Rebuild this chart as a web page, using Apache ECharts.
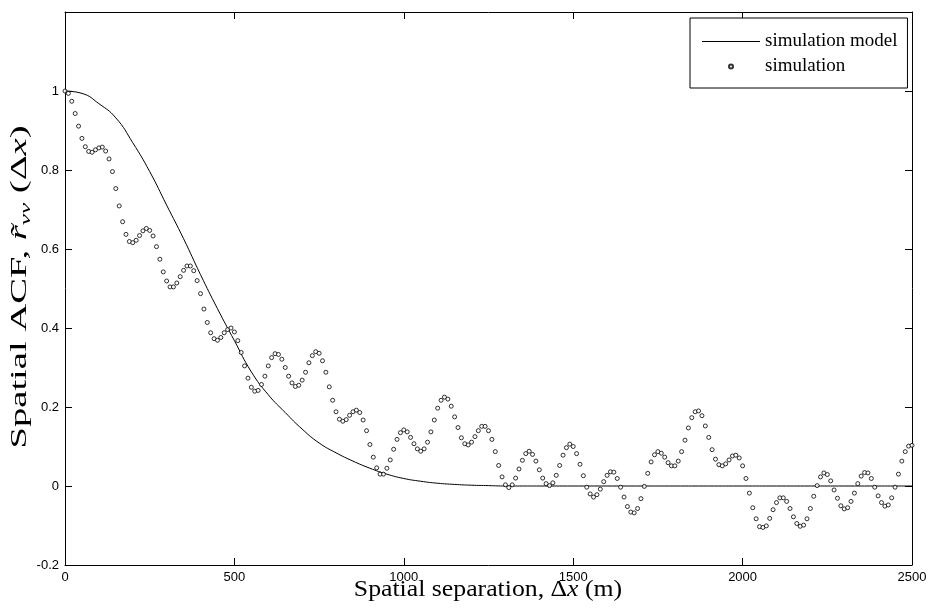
<!DOCTYPE html>
<html>
<head>
<meta charset="utf-8">
<script src="https://cdn.jsdelivr.net/npm/echarts@6/dist/echarts.min.js"></script>
<style>
  html, body { margin: 0; padding: 0; background: #fff; }
  #chart { width: 932px; height: 613px; }
</style>
</head>
<body>
<div id="chart"></div>
<script>
// Spatial separation step of the simulated ACF samples (m)
const lagStep = 10;

// Simulated spatial ACF, one value per lag step from 0 m to 2500 m
const simulationValues = [
  1.000, 0.994, 0.974, 0.943, 0.911, 0.880, 0.859, 0.847, 0.845, 0.851,
  0.856, 0.858, 0.848, 0.828, 0.796, 0.753, 0.709, 0.669, 0.637, 0.619,
  0.616, 0.622, 0.634, 0.646, 0.652, 0.647, 0.633, 0.606, 0.574, 0.542,
  0.519, 0.504, 0.504, 0.514, 0.530, 0.546, 0.557, 0.557, 0.545, 0.520,
  0.487, 0.448, 0.414, 0.388, 0.373, 0.369, 0.376, 0.388, 0.396, 0.400,
  0.390, 0.368, 0.338, 0.304, 0.273, 0.250, 0.240, 0.242, 0.257, 0.278,
  0.304, 0.325, 0.335, 0.333, 0.321, 0.300, 0.278, 0.261, 0.252, 0.255,
  0.268, 0.288, 0.312, 0.330, 0.340, 0.336, 0.317, 0.288, 0.251, 0.217,
  0.188, 0.169, 0.164, 0.168, 0.179, 0.188, 0.192, 0.186, 0.167, 0.140,
  0.105, 0.073, 0.046, 0.030, 0.030, 0.045, 0.066, 0.093, 0.118, 0.135,
  0.142, 0.137, 0.123, 0.107, 0.094, 0.088, 0.094, 0.111, 0.137, 0.167,
  0.197, 0.217, 0.225, 0.220, 0.202, 0.175, 0.148, 0.122, 0.107, 0.104,
  0.111, 0.125, 0.140, 0.151, 0.151, 0.140, 0.118, 0.087, 0.052, 0.023,
  0.003, -0.004, 0.003, 0.020, 0.043, 0.065, 0.082, 0.088, 0.080, 0.063,
  0.041, 0.020, 0.006, 0.001, 0.008, 0.027, 0.052, 0.078, 0.097, 0.106,
  0.100, 0.082, 0.055, 0.026, -0.003, -0.020, -0.028, -0.022, -0.008, 0.011,
  0.027, 0.036, 0.035, 0.019, -0.003, -0.028, -0.052, -0.066, -0.068, -0.057,
  -0.032, -0.001, 0.032, 0.061, 0.079, 0.087, 0.083, 0.073, 0.059, 0.051,
  0.051, 0.063, 0.087, 0.116, 0.147, 0.173, 0.188, 0.190, 0.178, 0.152,
  0.123, 0.092, 0.068, 0.054, 0.051, 0.056, 0.066, 0.076, 0.078, 0.071,
  0.051, 0.019, -0.018, -0.055, -0.083, -0.103, -0.105, -0.101, -0.082, -0.060,
  -0.042, -0.030, -0.030, -0.039, -0.057, -0.078, -0.095, -0.102, -0.099, -0.083,
  -0.057, -0.026, 0.001, 0.023, 0.033, 0.029, 0.013, -0.010, -0.031, -0.050,
  -0.058, -0.055, -0.039, -0.018, 0.006, 0.025, 0.034, 0.033, 0.019, -0.003,
  -0.025, -0.042, -0.051, -0.048, -0.030, -0.003, 0.030, 0.063, 0.087, 0.101,
  0.103
];

// Simulation model curve, sampled every 50 m
const modelLags = [
  0, 50, 100, 150, 200, 250, 300, 350, 400, 450, 500, 550, 600, 650, 700,
  750, 800, 850, 900, 950, 1000, 1050, 1100, 1150, 1200, 1250, 1300, 1350,
  1400, 1500, 1600, 1700, 1800, 1900, 2000, 2100, 2200, 2300, 2400, 2500
];
const modelValues = [
  1.000, 0.994, 0.968, 0.932, 0.869, 0.796, 0.711, 0.626, 0.535, 0.449,
  0.368, 0.289, 0.231, 0.186, 0.144, 0.109, 0.084, 0.063, 0.045, 0.030,
  0.019, 0.012, 0.007, 0.004, 0.002, 0.001, 0.000, 0.000, 0.000, 0.000,
  0.000, 0.000, 0.000, 0.000, 0.000, 0.000, 0.000, 0.000, 0.000, 0.000
];

// Axis ranges and tick spacing
const xRange = [0, 2500];
const xTickStep = 500;
const yRange = [-0.2, 1.2];
const yTickStep = 0.2;
const yLabelMax = 1;

const seriesNames = ['simulation model', 'simulation'];
const xTitle = '{n|Spatial separation, Δ}{i|x}{n| (m)}';
const yTitle = '{n|Spatial ACF, }{i|r\u0303}{s|νν}{n| (Δ}{i|x}{n|)}';

const serif = '"Liberation Serif", "DejaVu Serif", serif';
const sans = '"Liberation Sans", Arial, sans-serif';

const simulationPoints = simulationValues.map((v, i) => [i * lagStep, v]);
const modelPoints = modelLags.map((x, i) => [x, modelValues[i]]);

const frameLine = { show: true, onZero: false, lineStyle: { color: '#000', width: 1 } };
const innerTick = { show: true, inside: true, length: 7, lineStyle: { color: '#000', width: 1 } };

const titleRich = {
  n: { fontFamily: serif, fontSize: 23, fill: '#000', color: '#000', lineHeight: 28 },
  i: { fontFamily: serif, fontSize: 23, fontStyle: 'italic', fill: '#000', color: '#000', lineHeight: 28 },
  s: { fontFamily: serif, fontSize: 15, fontStyle: 'italic', fill: '#000', color: '#000', lineHeight: 12, verticalAlign: 'bottom' }
};

const chart = echarts.init(document.getElementById('chart'), null, { renderer: 'canvas' });
chart.setOption({
  backgroundColor: '#fff',
  animation: false,
  grid: { left: 65, right: 20, top: 12, bottom: 48, containLabel: false, outerBoundsMode: 'none' },
  legend: {
    data: [
      { name: seriesNames[0], icon: 'path://M0,0h60v1.1h-60z' },
      { name: seriesNames[1], icon: 'circle' }
    ],
    orient: 'vertical',
    left: 690,
    top: 18,
    itemWidth: 58,
    itemHeight: 4,
    itemGap: 6,
    padding: [14, 10, 12, 12],
    backgroundColor: '#fff',
    borderColor: '#000',
    borderWidth: 1,
    borderRadius: 0,
    textStyle: { fontFamily: serif, fontSize: 19, color: '#000' }
  },
  graphic: [
    {
      type: 'text', x: 488, y: 590, scaleX: 1.12,
      style: { text: xTitle, rich: titleRich, align: 'center', verticalAlign: 'middle', textAlign: 'center', textVerticalAlign: 'middle' }
    },
    {
      type: 'text', x: 20, y: 287, rotation: Math.PI / 2, scaleX: 1.68,
      style: { text: yTitle, rich: titleRich, align: 'center', verticalAlign: 'middle', textAlign: 'center', textVerticalAlign: 'middle' }
    }
  ],
  xAxis: [
    {
      type: 'value', min: xRange[0], max: xRange[1], interval: xTickStep,
      position: 'bottom',
      axisLine: frameLine, axisTick: innerTick, splitLine: { show: false },
      axisLabel: { color: '#000', fontFamily: sans, fontSize: 13, margin: 6, formatter: v => String(v) }
    },
    {
      type: 'value', min: xRange[0], max: xRange[1], interval: xTickStep,
      position: 'top',
      axisLine: frameLine, axisTick: innerTick, splitLine: { show: false },
      axisLabel: { show: false }
    }
  ],
  yAxis: [
    {
      type: 'value', min: yRange[0], max: yRange[1], interval: yTickStep,
      position: 'left',
      axisLine: frameLine, axisTick: innerTick, splitLine: { show: false },
      axisLabel: {
        color: '#000', fontFamily: sans, fontSize: 13, margin: 6,
        formatter: v => (v > yLabelMax + 1e-9 ? '' : String(Math.round(v * 10) / 10))
      }
    },
    {
      type: 'value', min: yRange[0], max: yRange[1], interval: yTickStep,
      position: 'right',
      axisLine: frameLine, axisTick: innerTick, splitLine: { show: false },
      axisLabel: { show: false }
    }
  ],
  series: [
    {
      name: seriesNames[0],
      type: 'line',
      data: modelPoints,
      smooth: 0.5,
      symbol: 'none',
      lineStyle: { color: '#000', width: 1 },
      itemStyle: { color: '#000' },
      z: 2
    },
    {
      name: seriesNames[1],
      type: 'scatter',
      data: simulationPoints,
      symbol: 'circle',
      symbolSize: 4,
      itemStyle: { color: '#fff', borderColor: '#000', borderWidth: 1 },
      z: 3
    }
  ]
});
</script>
</body>
</html>
